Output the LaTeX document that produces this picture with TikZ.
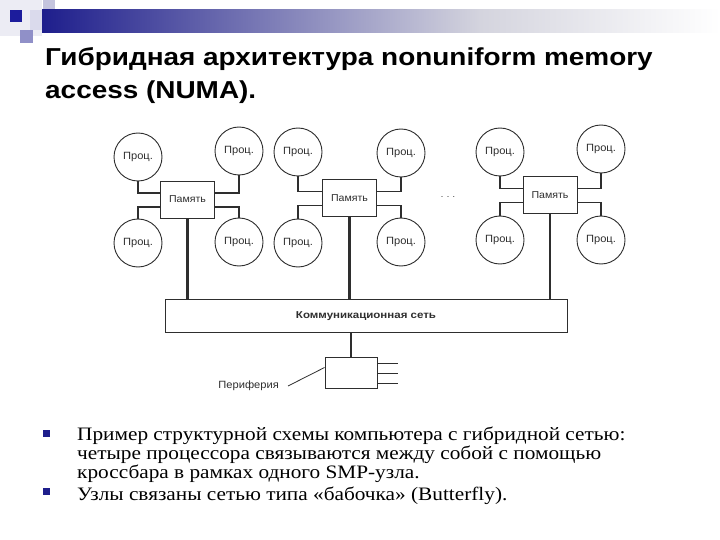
\documentclass[tikz,border=0pt]{standalone}
\usepackage{fontspec}
\setmainfont{Liberation Serif}
\newfontfamily\hdfont{Liberation Sans}
\newfontfamily\titlefont[FakeStretch=1.14]{Liberation Sans}
\newfontfamily\bodyfont[FakeStretch=1.12]{Liberation Serif}
\newfontfamily\labfont[FakeStretch=1.06]{Liberation Sans}
\newfontfamily\netfont[FakeStretch=1.15]{Liberation Sans}
\usetikzlibrary{positioning}
\definecolor{navy}{HTML}{1E1E8C}
\definecolor{barend}{HTML}{D4D4DE}
\definecolor{ink}{HTML}{2E2E2E}
\definecolor{deca}{HTML}{ECECF4}
\definecolor{decb}{HTML}{C4C4DE}
\definecolor{decc}{HTML}{DADAEC}
\definecolor{decd}{HTML}{9090C8}
\definecolor{dece}{HTML}{1C1C9C}
\tikzset{
  proc/.style={circle,draw=ink,line width=0.9pt,minimum size=48pt,inner sep=0pt,font=\labfont\fontsize{10.5}{12}\selectfont,text=ink},
  mem/.style={rectangle,draw=ink,line width=0.9pt,minimum width=54pt,minimum height=37pt,inner sep=0pt,font=\labfont\fontsize{10}{12}\selectfont,text=ink},
  link/.style={draw=ink,line width=1.1pt},
  trunk/.style={draw=ink,line width=2.4pt},
  bullet/.style={fill=navy,minimum size=7pt,inner sep=0pt},
  body/.style={anchor=base west,font=\bodyfont\fontsize{19}{19}\selectfont,inner sep=0pt},
  ttl/.style={anchor=base west,inner sep=0pt,font=\titlefont\bfseries\fontsize{24.5}{30}\selectfont}
}
\begin{document}
\begin{tikzpicture}[x=1pt,y=-1pt]
\useasboundingbox (0,0) rectangle (720,540);
% decorative header
\fill[white] (0,0) rectangle (720,540);
\fill[deca] (0,0) rectangle (42,36);
\fill[decb] (43,0) rectangle (55,18);
\fill[decc] (30,10) rectangle (45,30);
\fill[decd] (20,30) rectangle (33,43);
\fill[dece] (10,10) rectangle (22,22);
\shade[left color=navy,right color=barend] (42,10) rectangle (480,33);
\shade[left color=barend,right color=white] (480,10) rectangle (720,33);
% title
\node[ttl] (t1) at (45,66) {Гибридная архитектура nonuniform memory};
\node[ttl] (t2) at (45,99) {access (NUMA).};
% network
\node[rectangle,draw=ink,line width=0.9pt,minimum width=402pt,minimum height=33pt,inner sep=0pt,font=\netfont\bfseries\fontsize{10}{12}\selectfont,text=ink] (net) at (366,316) {Коммуникационная сеть};
% clusters
\foreach \i/\mx/\my/\ax/\ay/\bx/\by/\cx/\cy/\dx/\dy in {
  1/187.5/199.5/138/157/239/151/138/243/239/242,
  2/349.5/198/298/152/401/153/298/243/401/242,
  3/550/195/500/152/601/149/500/240/601/240}{
  \node[mem] (m\i) at (\mx,\my) {Память};
  \node[proc] (p\i a) at (\ax,\ay) {Проц.};
  \node[proc] (p\i b) at (\bx,\by) {Проц.};
  \node[proc] (p\i c) at (\cx,\cy) {Проц.};
  \node[proc] (p\i d) at (\dx,\dy) {Проц.};
  \draw[link] (p\i a.south) |- ([yshift=6.5pt]m\i.west);
  \draw[link] (p\i b.south) |- ([yshift=6.5pt]m\i.east);
  \draw[link] (p\i c.north) |- ([yshift=-7.5pt]m\i.west);
  \draw[link] (p\i d.north) |- ([yshift=-7.5pt]m\i.east);
  \draw[trunk] (m\i.south) -- (m\i.south |- net.north);
}
\node[font=\hdfont\fontsize{9}{11}\selectfont,text=ink] (dots) at (448,197) {. . .};
% periphery
\node[rectangle,draw=ink,line width=0.9pt,minimum width=52pt,minimum height=31pt,inner sep=0pt] (per) at (351,372.5) {};
\draw[trunk] (per.north |- net.south) -- (per.north);
\coordinate (o1) at (398,363);
\coordinate (o2) at (398,373);
\coordinate (o3) at (398,383);
\draw[link,line width=0.8pt] (per.east |- o1) -- (o1);
\draw[link,line width=0.8pt] (per.east |- o2) -- (o2);
\draw[link,line width=0.8pt] (per.east |- o3) -- (o3);
\node[anchor=east,inner sep=0pt,font=\labfont\fontsize{10.5}{12}\selectfont,text=ink] (plab) at (279,386) {Периферия};
\draw[link,line width=0.8pt] ([xshift=9pt]plab.east) -- ([yshift=5pt]per.west);
% bullets
\node[bullet] (b1) at (46.5,433.5) {};
\node[bullet] (b2) at (46.5,491.5) {};
\node[body] (l1) at (77,440) {Пример структурной схемы компьютера с гибридной сетью:};
\node[body] (l2) at (77,459) {четыре процессора связываются между собой с помощью};
\node[body] (l3) at (77,478) {кроссбара в рамках одного SMP-узла.};
\node[body] (l4) at (77,500) {Узлы связаны сетью типа «бабочка» (Butterfly).};
\end{tikzpicture}
\end{document}
